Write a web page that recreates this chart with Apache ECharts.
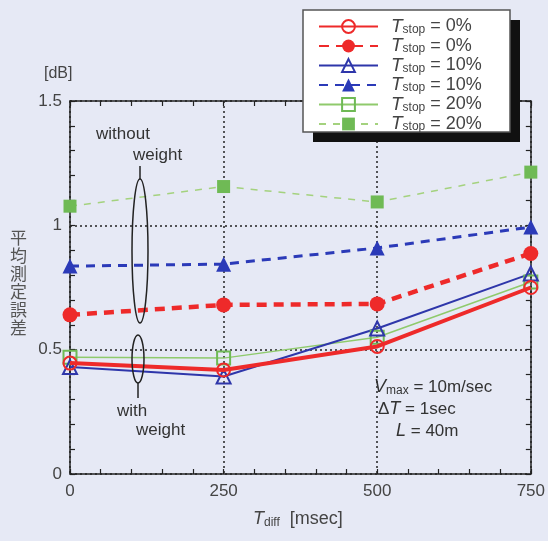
<!DOCTYPE html>
<html>
<head>
<meta charset="utf-8">
<script src="https://cdn.jsdelivr.net/npm/echarts@6/dist/echarts.min.js"></script>
<style>
  html, body { margin: 0; padding: 0; background: #e6e9f5; }
  #chart { width: 548px; height: 541px; }
</style>
</head>
<body>
<div id="chart"></div>
<script>
// T_diff values (msec)
const tDiff = [0, 250, 500, 750];
const yTicks = [0, 0.5, 1, 1.5];

// mean measurement error [dB]
const stop0With = [0.446, 0.418, 0.513, 0.750];
const stop0Without = [0.640, 0.680, 0.684, 0.887];
const stop10With = [0.430, 0.392, 0.585, 0.806];
const stop10Without = [0.836, 0.844, 0.909, 0.993];
const stop20With = [0.470, 0.466, 0.550, 0.772];
const stop20Without = [1.077, 1.156, 1.094, 1.214];

const legendLabels = {
  s0w: '0%', s0u: '0%', s10w: '10%', s10u: '10%', s20w: '20%', s20u: '20%'
};

const chart = echarts.init(document.getElementById('chart'));
const font = 'Liberation Sans';
const pts = arr => tDiff.map((x, i) => [x, arr[i]]);

const red = '#ee2a2a', blue = '#2e36aa', green = '#8fca6c', greenFill = '#6fba55';

// ticks drawn toward the plot area
const tick = { show: true, inside: true, length: 5, lineStyle: { color: '#222', width: 1.2 } };
const minor = { show: true, splitNumber: 5, length: 5, lineStyle: { color: '#222', width: 1.2 } };
const axLine = { show: true, onZero: false, lineStyle: { color: '#222', width: 1.5 } };
const dotted = { show: true, lineStyle: { color: '#222', type: [2, 3], width: 1.5 } };

const option = {
  backgroundColor: '#e6e9f5',
  animation: false,
  grid: { left: 70, right: 15, top: 101, bottom: 67 },
  xAxis: [
    {
      type: 'value', min: 0, max: 750, interval: 250,
      axisLine: axLine, axisTick: tick, minorTick: minor, splitLine: dotted,
      axisLabel: { fontFamily: font, fontSize: 17, color: '#444', margin: 9 }
    },
    {
      type: 'value', min: 0, max: 750, interval: 250, position: 'top',
      axisLine: axLine, axisTick: tick, minorTick: minor,
      splitLine: { show: false }, axisLabel: { show: false }
    }
  ],
  yAxis: [
    {
      type: 'value', min: 0, max: 1.5, interval: 0.5,
      axisLine: axLine, axisTick: tick, minorTick: minor, splitLine: dotted,
      axisLabel: { fontFamily: font, fontSize: 17, color: '#444', margin: 8,
        formatter: v => yTicks.includes(v) ? String(v) : '' }
    },
    {
      type: 'value', min: 0, max: 1.5, interval: 0.5, position: 'right',
      axisLine: axLine, axisTick: tick, minorTick: minor,
      splitLine: { show: false }, axisLabel: { show: false }
    }
  ],
  legend: {
    left: 303, top: 10,
    orient: 'vertical',
    data: ['s0w', 's0u', 's10w', 's10u', 's20w', 's20u'],
    itemWidth: 59, itemHeight: 16, itemGap: 0.5,
    padding: [7, 10, 6, 15],
    z: 10,
    formatter: name => '{t|T}{s|stop}{e| = ' + legendLabels[name] + '}',
    textStyle: {
      color: '#444', padding: [0, 0, 0, 8],
      rich: {
        t: { fontFamily: font, fontStyle: 'italic', fontSize: 19, color: '#444', lineHeight: 18, verticalAlign: 'middle' },
        s: { fontFamily: font, fontSize: 12, color: '#444', lineHeight: 18, verticalAlign: 'bottom', padding: [6, 0, 0, 0] },
        e: { fontFamily: font, fontSize: 18, color: '#444', lineHeight: 18, verticalAlign: 'middle' }
      }
    }
  },
  graphic: [
    { type: 'rect', z: 8, shape: { x: 313, y: 20, width: 207, height: 122 }, style: { fill: '#111' } },
    { type: 'rect', z: 9, shape: { x: 303, y: 10, width: 207, height: 122 }, style: { fill: '#fff', stroke: '#555', lineWidth: 1.5 } },
    { type: 'text', left: 44, top: 66, style: { text: '[dB]', fontFamily: font, fontSize: 16, fill: '#444' } },
    { type: 'text', left: 10, top: 229, style: { text: '平\n均\n測\n定\n誤\n差', fontFamily: 'Noto Sans CJK JP', fontSize: 17, lineHeight: 18, fill: '#555' } },
    { type: 'text', left: 96, top: 126, z: 5, style: { text: 'without', fontFamily: font, fontSize: 17, fill: '#333' } },
    { type: 'text', left: 133, top: 147, z: 5, style: { text: 'weight', fontFamily: font, fontSize: 17, fill: '#333' } },
    { type: 'text', left: 117, top: 403, z: 5, style: { text: 'with', fontFamily: font, fontSize: 17, fill: '#333' } },
    { type: 'text', left: 136, top: 422, z: 5, style: { text: 'weight', fontFamily: font, fontSize: 17, fill: '#333' } },
    { type: 'ellipse', z: 5, shape: { cx: 140, cy: 251, rx: 8, ry: 72 }, style: { fill: null, stroke: '#222', lineWidth: 1.5 } },
    { type: 'line', z: 5, shape: { x1: 140, y1: 166, x2: 140, y2: 179 }, style: { stroke: '#222', lineWidth: 1.5 } },
    { type: 'ellipse', z: 5, shape: { cx: 138, cy: 359, rx: 6, ry: 24 }, style: { fill: null, stroke: '#222', lineWidth: 1.5 } },
    { type: 'line', z: 5, shape: { x1: 138, y1: 383, x2: 138, y2: 398 }, style: { stroke: '#222', lineWidth: 1.5 } },
    {
      type: 'text', left: 374, top: 378, z: 5,
      style: {
        text: '{i|V}{s|max}{n| = 10m/sec}',
        rich: {
          i: { fontFamily: font, fontStyle: 'italic', fontSize: 18, fill: '#333', lineHeight: 20 },
          s: { fontFamily: font, fontSize: 12, fill: '#333', lineHeight: 20, verticalAlign: 'bottom', padding: [6, 0, 0, 0] },
          n: { fontFamily: font, fontSize: 17, fill: '#333', lineHeight: 20 }
        }
      }
    },
    {
      type: 'text', left: 378, top: 400, z: 5,
      style: {
        text: '{n|Δ}{i|T}{n| = 1sec}',
        rich: {
          i: { fontFamily: font, fontStyle: 'italic', fontSize: 18, fill: '#333', lineHeight: 20 },
          n: { fontFamily: font, fontSize: 17, fill: '#333', lineHeight: 20 }
        }
      }
    },
    {
      type: 'text', left: 396, top: 422, z: 5,
      style: {
        text: '{i|L}{n| = 40m}',
        rich: {
          i: { fontFamily: font, fontStyle: 'italic', fontSize: 18, fill: '#333', lineHeight: 20 },
          n: { fontFamily: font, fontSize: 17, fill: '#333', lineHeight: 20 }
        }
      }
    },
    {
      type: 'text', left: 253, top: 510,
      style: {
        text: '{i|T}{s|diff}{n|  [msec]}',
        rich: {
          i: { fontFamily: font, fontStyle: 'italic', fontSize: 18, fill: '#444', lineHeight: 20 },
          s: { fontFamily: font, fontSize: 12, fill: '#444', lineHeight: 20, verticalAlign: 'bottom', padding: [6, 0, 0, 0] },
          n: { fontFamily: font, fontSize: 18, fill: '#444', lineHeight: 20 }
        }
      }
    }
  ],
  series: [
    {
      name: 's20u', type: 'line', data: pts(stop20Without), z: 2,
      symbol: 'rect', symbolSize: 13,
      itemStyle: { color: greenFill },
      lineStyle: { color: '#a4d27e', width: 1.5, type: [7, 7] }
    },
    {
      name: 's10u', type: 'line', data: pts(stop10Without), z: 2,
      symbol: 'triangle', symbolSize: 15,
      itemStyle: { color: '#2b3ab8' },
      lineStyle: { color: '#2b3ab8', width: 3, type: [9, 7] }
    },
    {
      name: 's0u', type: 'line', data: pts(stop0Without), z: 2,
      symbol: 'circle', symbolSize: 15,
      itemStyle: { color: red },
      lineStyle: { color: red, width: 4.5, type: [10, 7] }
    },
    {
      name: 's20w', type: 'line', data: pts(stop20With), z: 3,
      symbol: 'rect', symbolSize: 13,
      itemStyle: { color: 'rgba(0,0,0,0)', borderColor: greenFill, borderWidth: 2 },
      lineStyle: { color: green, width: 1.5 }
    },
    {
      name: 's10w', type: 'line', data: pts(stop10With), z: 3,
      symbol: 'triangle', symbolSize: 14,
      itemStyle: { color: 'rgba(0,0,0,0)', borderColor: blue, borderWidth: 2 },
      lineStyle: { color: blue, width: 2 }
    },
    {
      name: 's0w', type: 'line', data: pts(stop0With), z: 4,
      symbol: 'circle', symbolSize: 13,
      itemStyle: { color: 'rgba(0,0,0,0)', borderColor: red, borderWidth: 2 },
      lineStyle: { color: red, width: 4 }
    }
  ]
};

chart.setOption(option);
window.addEventListener('resize', () => chart.resize());
</script>
</body>
</html>
